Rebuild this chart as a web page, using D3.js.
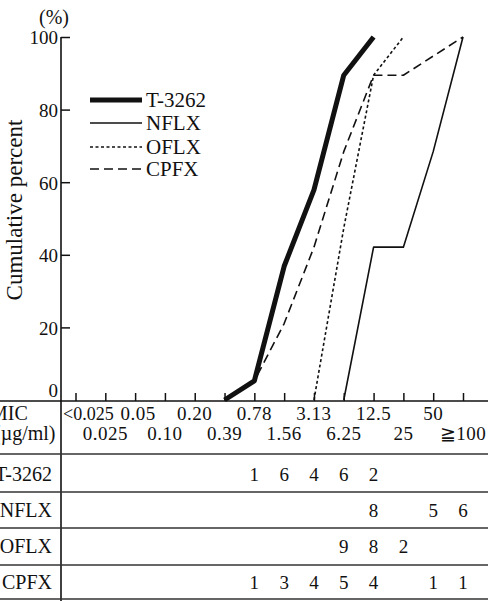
<!DOCTYPE html>
<html>
<head>
<meta charset="utf-8">
<script src="https://cdn.jsdelivr.net/npm/d3@7"></script>
<style>
  html, body { margin: 0; padding: 0; background: #fff; }
  svg { display: block; }
  text { font-family: "Liberation Serif", "Times New Roman", "DejaVu Serif", serif; fill: #111; }
</style>
</head>
<body>
<svg id="chart" width="488" height="601"></svg>
<script>
// MIC categories (µg/ml), in order along the x axis
const categories = ["<0.025", "0.025", "0.05", "0.10", "0.20", "0.39", "0.78",
                    "1.56", "3.13", "6.25", "12.5", "25", "50", "≧100"];
// Labels shown on the upper and lower rows of the MIC header
const upperLabels = ["<0.025", "0.05", "0.20", "0.78", "3.13", "12.5", "50"];
const lowerLabels = ["0.025", "0.10", "0.39", "1.56", "6.25", "25", "≧100"];

// Number of strains at each MIC
const drugs = ["T-3262", "NFLX", "OFLX", "CPFX"];
const countsT3262 = [0, 0, 0, 0, 0, 0, 1, 6, 4, 6, 2, 0, 0, 0];
const countsNFLX  = [0, 0, 0, 0, 0, 0, 0, 0, 0, 0, 8, 0, 5, 6];
const countsOFLX  = [0, 0, 0, 0, 0, 0, 0, 0, 0, 9, 8, 2, 0, 0];
const countsCPFX  = [0, 0, 0, 0, 0, 0, 1, 3, 4, 5, 4, 0, 1, 1];

const yTicks = [0, 20, 40, 60, 80, 100];

const series = [
  { name: drugs[0], counts: countsT3262, width: 5,   dash: null },
  { name: drugs[1], counts: countsNFLX,  width: 1.6, dash: null },
  { name: drugs[2], counts: countsOFLX,  width: 1.6, dash: "3,2.5" },
  { name: drugs[3], counts: countsCPFX,  width: 1.6, dash: "9,5" }
];

const svg = d3.select("#chart");

const x = d3.scalePoint().domain(categories).range([75.5, 463]);
const y = d3.scaleLinear().domain([0, 100]).range([400, 37]);

const axisX = 61;          // vertical axis / table divider
const baseY = 401;         // x axis line
const rowLines = [454, 492, 528, 565, 599];

// Cumulative percentage curve: starts at 0 on the category just before
// the first strain appears and stops once 100 % is reached.
function cumulative(counts) {
  const total = d3.sum(counts);
  const first = counts.findIndex(c => c > 0);
  const pts = [];
  let acc = 0;
  for (let i = Math.max(0, first - 1); i < counts.length; i++) {
    acc += counts[i];
    pts.push({ cat: categories[i], pct: acc / total * 100 });
    if (acc === total) break;
  }
  return pts;
}

// ---- axes ----
const yAxis = d3.axisLeft(y).tickValues(yTicks).tickSizeInner(-9).tickSizeOuter(0).tickPadding(3);
const gy = svg.append("g").attr("transform", `translate(${axisX},0)`).call(yAxis);
gy.select(".domain").remove();
gy.selectAll(".tick line").attr("stroke", "#111").attr("stroke-width", 1.5);
gy.selectAll(".tick text")
  .attr("font-size", 19)
  .style("font-family", '"Liberation Serif", serif')
  .attr("fill", "#111")
  .attr("dy", "0.36em");
gy.selectAll(".tick").filter(d => d === 0).select("line").remove();
gy.selectAll(".tick").filter(d => d === 0).select("text").attr("transform", "translate(0,-10)");

const xAxis = d3.axisTop(x).tickSizeInner(8).tickSizeOuter(0).tickFormat("");
const gx = svg.append("g").attr("transform", `translate(0,${baseY})`).call(xAxis);
gx.select(".domain").remove();
gx.selectAll(".tick line").attr("stroke", "#111").attr("stroke-width", 1.5);

// frame lines
svg.append("line").attr("x1", axisX).attr("x2", axisX).attr("y1", y(100)).attr("y2", 601)
  .attr("stroke", "#111").attr("stroke-width", 1.6);
svg.append("line").attr("x1", 0).attr("x2", 488).attr("y1", baseY).attr("y2", baseY)
  .attr("stroke", "#111").attr("stroke-width", 1.6);
svg.selectAll("line.row").data(rowLines).join("line").attr("class", "row")
  .attr("x1", 0).attr("x2", 488).attr("y1", d => d).attr("y2", d => d)
  .attr("stroke", "#333").attr("stroke-width", 1.6);

svg.append("text").attr("x", 54).attr("y", 24).attr("text-anchor", "middle")
  .attr("font-size", 20).text("(%)");

svg.append("text")
  .attr("transform", "translate(22,210) rotate(-90)")
  .attr("text-anchor", "middle").attr("font-size", 23)
  .text("Cumulative percent");

// ---- curves ----
const line = d3.line().x(d => x(d.cat)).y(d => y(d.pct));
svg.selectAll("path.curve").data(series).join("path").attr("class", "curve")
  .attr("d", s => line(cumulative(s.counts)))
  .attr("fill", "none").attr("stroke", "#111")
  .attr("stroke-width", s => s.width)
  .attr("stroke-dasharray", s => s.dash)
  .attr("stroke-linejoin", "round");

// ---- legend ----
const legendY = [100, 123, 147, 169];
const lg = svg.append("g");
series.forEach((s, i) => {
  lg.append("line").attr("x1", 90).attr("x2", 142)
    .attr("y1", legendY[i]).attr("y2", legendY[i])
    .attr("stroke", "#111").attr("stroke-width", s.width)
    .attr("stroke-dasharray", s.dash);
  lg.append("text").attr("x", 146).attr("y", legendY[i] + 7)
    .attr("font-size", 21).text(s.name);
});

// ---- MIC header ----
svg.append("text").attr("x", -10).attr("y", 420).attr("font-size", 20).text("MIC");
svg.append("text").attr("x", -6).attr("y", 440).attr("font-size", 20).text("(µg/ml)");

// first upper label sits against the axis; the rest are centred on their ticks
svg.selectAll("text.upper").data(upperLabels).join("text").attr("class", "upper")
  .attr("x", (d, i) => i === 0 ? axisX + 2 : x(d) + (i === 1 ? 3 : 0))
  .attr("y", 420)
  .attr("font-size", (d, i) => i === 0 ? 18 : 19)
  .attr("text-anchor", (d, i) => i === 0 ? "start" : "middle")
  .attr("letter-spacing", (d, i) => i === 0 ? 0 : 0.5)
  .text(d => d);
svg.selectAll("text.lower").data(lowerLabels).join("text").attr("class", "lower")
  .attr("x", d => x(d)).attr("y", 440).attr("font-size", 19)
  .attr("text-anchor", "middle").attr("letter-spacing", 0.5)
  .text(d => d);

// ---- counts table ----
const rowBase = [481, 517, 553, 589];
series.forEach((s, r) => {
  svg.append("text").attr("x", 52).attr("y", rowBase[r]).attr("text-anchor", "end")
    .attr("font-size", 20).text(s.name);
  svg.selectAll(null).data(s.counts.map((c, i) => ({ c, cat: categories[i] })).filter(d => d.c > 0))
    .join("text")
    .attr("x", d => x(d.cat)).attr("y", rowBase[r])
    .attr("text-anchor", "middle").attr("font-size", 19)
    .text(d => d.c);
});
</script>
</body>
</html>
